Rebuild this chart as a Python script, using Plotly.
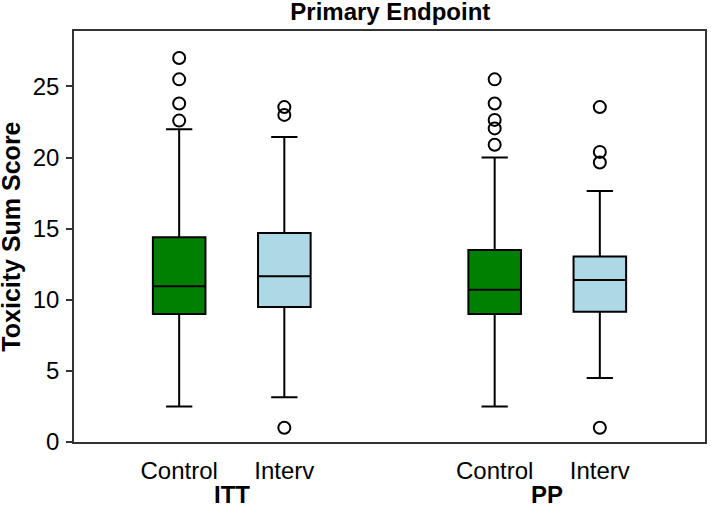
import plotly.graph_objects as go

# ---- data ----
groups = ["ITT", "PP"]
arms = ["Control", "Interv"]
arm_colors = ["#008000", "#ADD8E6"]

# per box: order ITT-Control, ITT-Interv, PP-Control, PP-Interv
lower_whisker = [2.5, 3.15, 2.5, 4.5]
q1_vals = [9.0, 9.5, 9.0, 9.15]
median_vals = [10.95, 11.65, 10.7, 11.4]
q3_vals = [14.4, 14.7, 13.5, 13.05]
upper_whisker = [22.0, 21.45, 20.0, 17.65]
outliers = [
    [27.0, 25.5, 23.8, 22.6],
    [23.55, 23.0, 1.0],
    [25.5, 23.8, 22.65, 22.05, 20.9],
    [23.55, 20.4, 19.65, 1.0],
]

FONT = "Liberation Sans, Arial, sans-serif"
FS = 24

fig = go.Figure()

tickvals, ticktext, group_centers = [], [], []
k = 0
for gi, g in enumerate(groups):
    pos = []
    for ai, a in enumerate(arms):
        xpos = gi * (len(arms) + 1) + ai + 1
        pos.append(xpos)
        tickvals.append(xpos)
        ticktext.append(a)
        fig.add_trace(go.Box(
            x=[xpos],
            q1=[q1_vals[k]], median=[median_vals[k]], q3=[q3_vals[k]],
            lowerfence=[lower_whisker[k]], upperfence=[upper_whisker[k]],
            width=0.5, whiskerwidth=0.5,
            fillcolor=arm_colors[ai],
            line=dict(color="black", width=2),
            boxpoints=False,
            showlegend=False,
            name=f"{g} {a}",
        ))
        fig.add_trace(go.Scatter(
            x=[xpos] * len(outliers[k]), y=outliers[k],
            mode="markers",
            marker=dict(symbol="circle-open", size=12, color="black",
                        line=dict(width=2, color="black")),
            showlegend=False, hoverinfo="y",
        ))
        k += 1
    group_centers.append(sum(pos) / len(pos))

for g, c in zip(groups, group_centers):
    fig.add_annotation(
        x=c, xref="x", y=-0.127, yref="paper", yanchor="middle",
        text=f"<b>{g}</b>", showarrow=False,
        font=dict(family=FONT, size=FS, color="black"),
    )

fig.add_annotation(
    x=-0.1012, xref="paper", y=0.5, yref="paper",
    xanchor="center", yanchor="middle", textangle=-90,
    text="<b>Toxicity Sum Score</b>", showarrow=False,
    font=dict(family=FONT, size=25, color="black"),
)

fig.update_layout(
    width=711, height=506,
    margin=dict(l=74, r=4, t=31, b=64),
    paper_bgcolor="white", plot_bgcolor="white",
    title=dict(text="<b>Primary Endpoint</b>", x=0.549, xanchor="center",
               y=1 - 12 / 506, yref="container", yanchor="middle",
               font=dict(family=FONT, size=FS, color="black")),
    font=dict(family=FONT, size=FS, color="black"),
)

fig.update_xaxes(
    range=[0, 6], tickvals=tickvals, ticktext=ticktext,
    showgrid=False, zeroline=False,
    showline=True, mirror=True, linecolor="#333333", linewidth=1.5,
    ticks="", ticklabelstandoff=6,
    tickfont=dict(family=FONT, size=FS, color="black"),
)
fig.update_yaxes(
    range=[0, 28.9], tickvals=[0, 5, 10, 15, 20, 25],
    showgrid=False, zeroline=False,
    showline=True, mirror=True, linecolor="#333333", linewidth=1.5,
    ticks="outside", ticklen=6, tickwidth=1.5, tickcolor="#333333",
    ticklabelstandoff=2,
    tickfont=dict(family=FONT, size=FS, color="black"),
)

fig.write_html(
    "out.html",
    config={"displayModeBar": False},
    post_script="document.body.style.margin='0';document.body.style.padding='0';",
)
